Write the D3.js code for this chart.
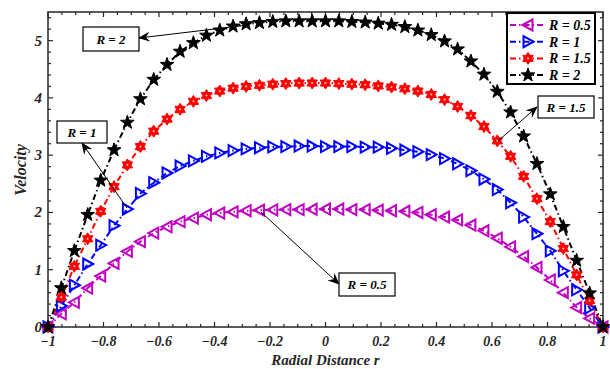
<!DOCTYPE html>
<html><head><meta charset="utf-8">
<script src="https://cdn.jsdelivr.net/npm/d3@7/dist/d3.min.js"></script>
<style>body{margin:0;background:#fff}svg{display:block}</style>
</head><body>
<svg id="c" width="610" height="369"></svg>
<script>
// radial positions (43 samples, step 1/21)
const rValues = [-1,-0.952,-0.905,-0.857,-0.810,-0.762,-0.714,-0.667,-0.619,-0.571,-0.524,-0.476,-0.429,-0.381,-0.333,-0.286,-0.238,-0.190,-0.143,-0.095,-0.048,0,0.048,0.095,0.143,0.190,0.238,0.286,0.333,0.381,0.429,0.476,0.524,0.571,0.619,0.667,0.714,0.762,0.810,0.857,0.905,0.952,1];
const vR05 = [0,0.23,0.43,0.68,0.89,1.11,1.32,1.49,1.64,1.75,1.84,1.90,1.96,1.99,2.01,2.03,2.04,2.045,2.05,2.05,2.055,2.06,2.06,2.05,2.05,2.04,2.03,2.02,2.00,1.96,1.92,1.87,1.78,1.68,1.55,1.40,1.23,1.04,0.82,0.60,0.34,0.15,0];
const vR1 = [0,0.37,0.73,1.10,1.43,1.77,2.06,2.33,2.52,2.69,2.81,2.90,2.98,3.04,3.08,3.11,3.13,3.145,3.15,3.16,3.16,3.15,3.15,3.15,3.14,3.14,3.12,3.09,3.06,3.01,2.94,2.85,2.73,2.58,2.40,2.17,1.92,1.63,1.33,0.98,0.65,0.33,0];
const vR15 = [0,0.52,1.06,1.54,2.02,2.45,2.83,3.15,3.42,3.63,3.80,3.94,4.04,4.12,4.17,4.20,4.22,4.24,4.25,4.26,4.26,4.26,4.25,4.24,4.23,4.21,4.19,4.16,4.12,4.06,3.97,3.85,3.69,3.50,3.25,2.98,2.63,2.24,1.84,1.37,0.91,0.46,0];
const vR2 = [0,0.68,1.33,1.96,2.56,3.09,3.57,3.98,4.32,4.58,4.81,4.96,5.09,5.18,5.25,5.29,5.31,5.33,5.34,5.34,5.34,5.34,5.34,5.33,5.32,5.30,5.28,5.24,5.18,5.10,4.99,4.85,4.64,4.41,4.11,3.75,3.33,2.85,2.32,1.75,1.16,0.59,0];
const seriesNames = ["R = 0.5","R = 1","R = 1.5","R = 2"];
const xTicks = [-1,-0.8,-0.6,-0.4,-0.2,0,0.2,0.4,0.6,0.8,1];
const yTicks = [0,1,2,3,4,5];
const annotations = ["R = 2","R = 1","R = 1.5","R = 0.5"];

const series = [
  {name:seriesNames[0], v:vR05, color:"#c000c0", marker:"triL"},
  {name:seriesNames[1], v:vR1, color:"#0000ff", marker:"triR"},
  {name:seriesNames[2], v:vR15, color:"#ff0000", marker:"hex"},
  {name:seriesNames[3], v:vR2, color:"#000000", marker:"star"}
];

const svg = d3.select("#c");
const L=48, R=603, T=12, B=327;
const x = d3.scaleLinear().domain([-1,1]).range([L,R]);
const y = d3.scaleLinear().domain([0,5.5]).range([B,T]);
const font = "'Liberation Serif','Times New Roman',serif";
const axisCol = "#262626";

// ticks
const g = svg.append("g");
const minorX = d3.range(-1,1.0001,0.05);
const minorY = d3.range(0,5.5001,0.2);
minorX.forEach(v=>{
  const major = xTicks.some(t=>Math.abs(t-v)<1e-6);
  const len = major?5:3;
  g.append("line").attr("x1",x(v)).attr("x2",x(v)).attr("y1",B).attr("y2",B-len).attr("stroke",axisCol).attr("stroke-width",1.2);
  g.append("line").attr("x1",x(v)).attr("x2",x(v)).attr("y1",T).attr("y2",T+len).attr("stroke",axisCol).attr("stroke-width",1.2);
});
minorY.forEach(v=>{
  const major = yTicks.some(t=>Math.abs(t-v)<1e-6);
  const len = major?5:3;
  g.append("line").attr("y1",y(v)).attr("y2",y(v)).attr("x1",L).attr("x2",L+len).attr("stroke",axisCol).attr("stroke-width",1.2);
  g.append("line").attr("y1",y(v)).attr("y2",y(v)).attr("x1",R).attr("x2",R-len).attr("stroke",axisCol).attr("stroke-width",1.2);
});
g.append("rect").attr("x",L).attr("y",T).attr("width",R-L).attr("height",B-T).attr("fill","none").attr("stroke",axisCol).attr("stroke-width",1.5);

xTicks.forEach(t=>{
  svg.append("text").attr("x",x(t)).attr("y",B+19).attr("text-anchor","middle")
    .attr("font-family",font).attr("font-weight","bold").attr("font-style","italic").attr("font-size",14).attr("fill","#262626")
    .text(d3.format("")(t));
});
yTicks.forEach(t=>{
  svg.append("text").attr("x",L-6).attr("y",y(t)+5).attr("text-anchor","end")
    .attr("font-family",font).attr("font-weight","bold").attr("font-style","italic").attr("font-size",15).attr("fill","#262626")
    .text(t);
});
svg.append("text").attr("x",x(0)).attr("y",365).attr("text-anchor","middle")
  .attr("font-family",font).attr("font-weight","bold").attr("font-style","italic").attr("font-size",15).attr("fill","#262626")
  .text("Radial Distance r");
svg.append("text").attr("transform","translate(26,170) rotate(-90)").attr("text-anchor","middle")
  .attr("font-family",font).attr("font-weight","bold").attr("font-style","italic").attr("font-size",16).attr("fill","#262626")
  .text("Velocity");

// markers
function markerPath(type){
  if(type==="star"){
    const pts=[];for(let i=0;i<10;i++){const a=-Math.PI/2+i*Math.PI/5;const r=i%2?2.9:7.2;pts.push([r*Math.cos(a),r*Math.sin(a)]);}
    return "M"+pts.map(p=>p.join(",")).join("L")+"Z";
  }
  if(type==="hex"){
    const pts=[];for(let i=0;i<12;i++){const a=-Math.PI/2+i*Math.PI/6;const r=i%2?3.6:6;pts.push([r*Math.cos(a),r*Math.sin(a)]);}
    return "M"+pts.map(p=>p.join(",")).join("L")+"Z";
  }
  if(type==="triL") return "M-5.5,0L4.5,-5.5L4.5,5.5Z";
  if(type==="triR") return "M5.5,0L-4.5,-5.5L-4.5,5.5Z";
}
function drawMarker(sel,s,cx,cy){
  const filled = s.marker==="star"||s.marker==="hex";
  sel.append("path").attr("d",markerPath(s.marker)).attr("transform",`translate(${cx},${cy})`)
    .attr("fill",filled?s.color:"none").attr("stroke",s.color).attr("stroke-width",filled?1:2);
  if(s.marker==="hex") sel.append("circle").attr("cx",cx).attr("cy",cy).attr("r",1.1).attr("fill","#ffb0b0");
}

const line = d3.line().x((d,i)=>x(rValues[i])).y(d=>y(d));
const dash = "6,3,1.5,3";
series.forEach(s=>{
  svg.append("path").datum(s.v).attr("d",line).attr("fill","none").attr("stroke",s.color).attr("stroke-width",2).attr("stroke-dasharray",dash);
});
series.forEach(s=>{
  const mg = svg.append("g");
  s.v.forEach((v,i)=>drawMarker(mg,s,x(rValues[i]),y(v)));
});

// legend
const lg = svg.append("g");
lg.append("rect").attr("x",507).attr("y",13).attr("width",88).attr("height",71).attr("fill","#fff").attr("stroke","#000").attr("stroke-width",2);
series.forEach((s,i)=>{
  const cy = 25+i*16.7;
  lg.append("line").attr("x1",510).attr("x2",546).attr("y1",cy).attr("y2",cy).attr("stroke",s.color).attr("stroke-width",2).attr("stroke-dasharray",dash);
  drawMarker(lg,s,528,cy);
  lg.append("text").attr("x",549).attr("y",cy+5).attr("font-family",font).attr("font-weight","bold").attr("font-style","italic").attr("font-size",14).attr("fill","#000").text(s.name);
});

// annotations
const defs = svg.append("defs");
defs.append("marker").attr("id","ah").attr("viewBox","0 0 12 10").attr("refX",11).attr("refY",5)
  .attr("markerWidth",12).attr("markerHeight",10).attr("markerUnits","userSpaceOnUse").attr("orient","auto")
  .append("path").attr("d","M0,0L12,5L0,10L4,5Z").attr("fill","#000");
const ann = [
  {text:annotations[0], box:[83,27,56,24], from:[248,25], to:[139,38]},
  {text:annotations[1], box:[57,121,50,22], from:[127,208], to:[82,143]},
  {text:annotations[2], box:[538,96,56,22], from:[498,141], to:[537,107]},
  {text:annotations[3], box:[339,273,56,23], from:[261,212], to:[339,284]}
];
ann.forEach(a=>{
  svg.append("line").attr("x1",a.from[0]).attr("y1",a.from[1]).attr("x2",a.to[0]).attr("y2",a.to[1])
    .attr("stroke","#000").attr("stroke-width",1).attr("marker-end","url(#ah)");
  svg.append("rect").attr("x",a.box[0]).attr("y",a.box[1]).attr("width",a.box[2]).attr("height",a.box[3])
    .attr("fill","#fff").attr("stroke","#000").attr("stroke-width",1.2);
  svg.append("text").attr("x",a.box[0]+a.box[2]/2).attr("y",a.box[1]+a.box[3]/2+4.5).attr("text-anchor","middle")
    .attr("font-family",font).attr("font-weight","bold").attr("font-style","italic").attr("font-size",13).attr("fill","#000").text(a.text);
});
</script>
</body></html>
